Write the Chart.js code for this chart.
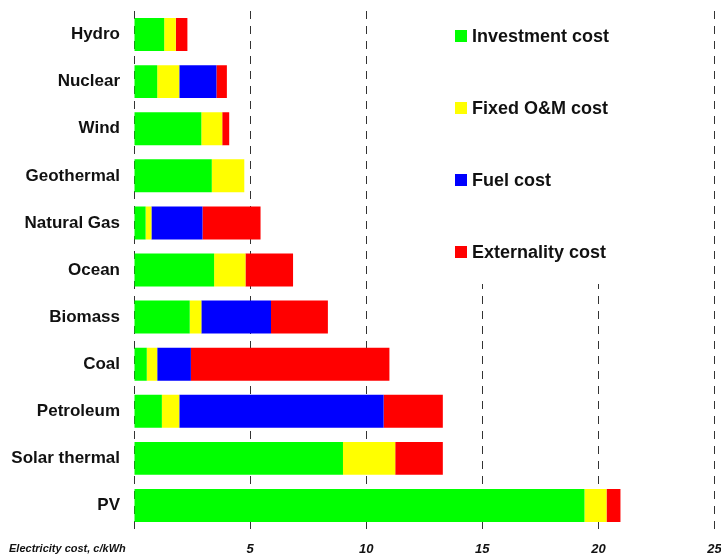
<!DOCTYPE html>
<html lang="en">
<head>
<meta charset="UTF-8" />
<title>Electricity cost by source</title>
<script src="https://cdn.jsdelivr.net/npm/chart.js"></script>
<style>
  html, body { margin: 0; padding: 0; background: #fff; }
  canvas { display: block; }
</style>
</head>
<body>
<canvas id="costChart" width="721" height="557"></canvas>
<script>
  // values, c/kWh
  const sources = ['Hydro', 'Nuclear', 'Wind', 'Geothermal', 'Natural Gas', 'Ocean',
                   'Biomass', 'Coal', 'Petroleum', 'Solar thermal', 'PV'];
  const investment  = [1.3, 1.0, 2.9, 3.35, 0.5, 3.45, 2.4, 0.55, 1.2, 9.0, 19.4];
  const fixedOM     = [0.5, 0.95, 0.9, 1.4, 0.25, 1.35, 0.5, 0.45, 0.75, 2.25, 0.95];
  const fuel        = [0, 1.6, 0, 0, 2.2, 0, 3.0, 1.45, 8.8, 0, 0];
  const externality = [0.5, 0.45, 0.3, 0, 2.5, 2.05, 2.45, 8.55, 2.55, 2.05, 0.6];
  const xTicks = [0, 5, 10, 15, 20, 25];

  const FONT = "'Liberation Sans', Arial, sans-serif";

  // legend drawn in a white box over the top right of the plot
  const boxLegend = {
    id: 'boxLegend',
    afterDatasetsDraw(chart) {
      const ctx = chart.ctx;
      ctx.save();
      ctx.fillStyle = '#fff';
      ctx.fillRect(440, 0, 264, 284);
      ctx.font = 'bold 18px ' + FONT;
      ctx.textBaseline = 'middle';
      chart.data.datasets.forEach((ds, i) => {
        const y = 36 + i * 72;
        ctx.fillStyle = ds.backgroundColor;
        ctx.fillRect(455, y - 6, 12, 12);
        ctx.fillStyle = '#111';
        ctx.fillText(ds.label, 472, y + 1);
      });
      ctx.restore();
    }
  };

  // axis title sits on the tick label row, at the left
  const axisTitle = {
    id: 'axisTitle',
    afterDraw(chart) {
      const ctx = chart.ctx;
      ctx.save();
      ctx.font = 'italic bold 11px ' + FONT;
      ctx.fillStyle = '#111';
      ctx.textBaseline = 'middle';
      ctx.fillText('Electricity cost, c/kWh', 9, 549);
      ctx.restore();
    }
  };

  new Chart(document.getElementById('costChart'), {
    type: 'bar',
    data: {
      labels: sources,
      datasets: [
        { label: 'Investment cost', data: investment, backgroundColor: '#00ff00' },
        { label: 'Fixed O&M cost', data: fixedOM, backgroundColor: '#ffff00' },
        { label: 'Fuel cost', data: fuel, backgroundColor: '#0000ff' },
        { label: 'Externality cost', data: externality, backgroundColor: '#ff0000' }
      ]
    },
    options: {
      indexAxis: 'y',
      responsive: false,
      animation: false,
      devicePixelRatio: 1,
      layout: { padding: { top: 11, right: 6.5, bottom: 0, left: 0 } },
      datasets: {
        bar: { categoryPercentage: 1, barPercentage: 0.7, borderWidth: 0 }
      },
      plugins: {
        legend: { display: false },
        tooltip: { enabled: false }
      },
      scales: {
        x: {
          stacked: true,
          min: 0,
          max: 25,
          afterBuildTicks: (scale) => { scale.ticks = xTicks.map(v => ({ value: v })); },
          afterFit: (scale) => {
            scale.height = 28;
            scale.paddingLeft = 0;
            scale.paddingRight = 0;
          },
          border: { display: false, dash: [8, 7] },
          grid: { color: '#333', lineWidth: 1, drawTicks: false },
          ticks: {
            padding: 13,
            color: '#111',
            font: { family: FONT, size: 13, style: 'italic', weight: 'bold' },
            callback: (v) => v === 0 ? '' : v
          }
        },
        y: {
          stacked: true,
          afterFit: (scale) => {
            scale.width = 134;
            scale.paddingTop = 0;
            scale.paddingBottom = 0;
          },
          border: { display: false },
          grid: { display: false, drawTicks: false },
          ticks: {
            padding: 14,
            color: '#111',
            font: { family: FONT, size: 17, weight: 'bold' }
          }
        }
      }
    },
    plugins: [boxLegend, axisTitle]
  });
</script>
</body>
</html>
